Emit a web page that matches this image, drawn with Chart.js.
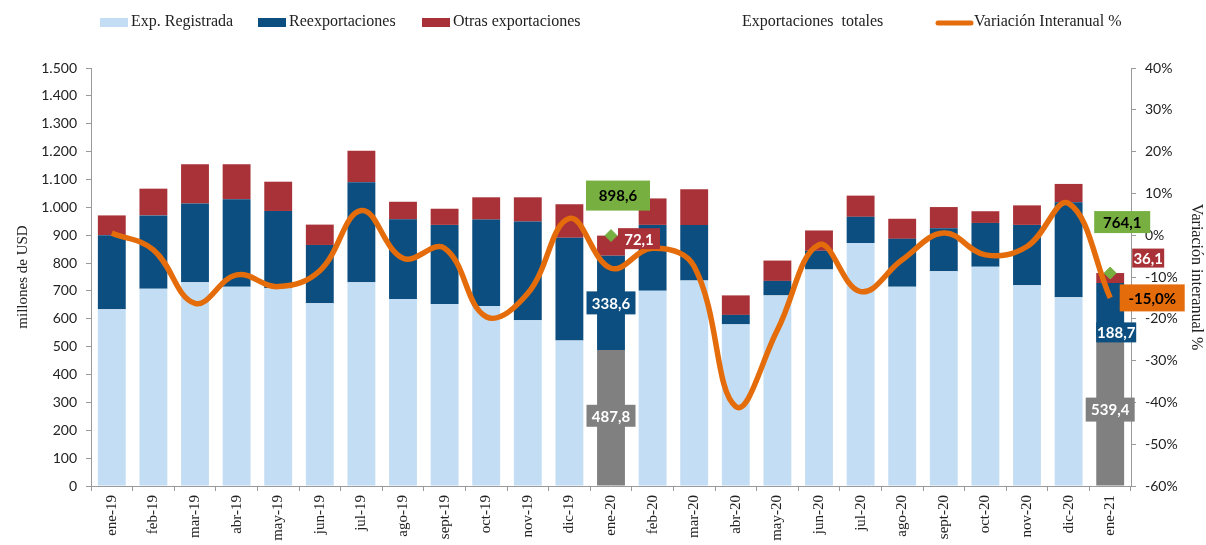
<!DOCTYPE html>
<html>
<head>
<meta charset="utf-8">
<script src="https://cdn.jsdelivr.net/npm/chart.js@4.4.0/dist/chart.umd.min.js"></script>
<style>
  html, body { margin: 0; padding: 0; background: #fff; }
  #wrap { width: 1206px; height: 545px; position: relative; }
</style>
</head>
<body>
<div id="wrap"><canvas id="grafico"></canvas></div>
<script>
// --- DATOS ---
const categorias = ['ene-19','feb-19','mar-19','abr-19','may-19','jun-19','jul-19','ago-19','sept-19','oct-19','nov-19','dic-19',
                    'ene-20','feb-20','mar-20','abr-20','may-20','jun-20','jul-20','ago-20','sept-20','oct-20','nov-20','dic-20','ene-21'];
const expRegistrada      = [634, 708, 731, 715, 710, 656, 731, 671, 653, 646, 595, 522, 487.8, 701, 737, 580, 684, 777, 872, 715, 771, 787, 720, 677, 539.4];
const reexportaciones    = [266, 263, 283, 314, 277, 209, 359, 286, 284, 310, 354, 369, 338.6, 236, 200, 34, 52, 67, 94, 172, 154, 157, 217, 341, 188.7];
const otrasExportaciones = [71, 96, 141, 126, 105, 73, 113, 63, 58, 80, 87, 120, 72.1, 95, 128, 70, 73, 73, 76, 72, 76, 42, 70, 66, 36.1];
const exportacionesTotales = [null, null, null, null, null, null, null, null, null, null, null, null, 898.6,
                              null, null, null, null, null, null, null, null, null, null, null, 764.1];
const variacionInteranual = [0.5, -3.5, -16.3, -9.5, -12.3, -8.5, 5.9, -5.5, -3.1, -19.5, -13.9, 4.0, -7.9,
                             -3.1, -7.5, -41.0, -22.7, -2.3, -13.5, -5.9, 0.5, -4.7, -2.7, 7.6, -15.0];
const mesesDestacados = [12, 24];

// --- COLORES ---
const CELESTE = '#C3DDF4';
const AZUL = '#0B4E7F';
const ROJO = '#A83238';
const GRIS = '#808080';
const NARANJA = '#E46C0A';
const VERDE = '#77B041';
const EJE = '#9a9a9a';

const SERIF = '"Liberation Serif", "DejaVu Serif", serif';
const SANS = 'Lato, "Open Sans", sans-serif';

const coloresRegistrada = categorias.map((c, i) => mesesDestacados.includes(i) ? GRIS : CELESTE);

// etiquetas de valores (ds: dataset, modo: 'seg' centro del tramo, 'pt' punto)
const etiquetas = [
  { ds: 0, i: 12, modo: 'seg', texto: '487,8', bg: GRIS,    fg: '#fff', dx: 0,  dy: -2,  w: 49, h: 22 },
  { ds: 1, i: 12, modo: 'seg', texto: '338,6', bg: AZUL,    fg: '#fff', dx: 0,  dy: 0,   w: 49, h: 23 },
  { ds: 2, i: 12, modo: 'seg', texto: '72,1',  bg: ROJO,    fg: '#fff', dx: 28, dy: -7,  w: 42, h: 21 },
  { ds: 3, i: 12, modo: 'pt',  texto: '898,6', bg: VERDE,   fg: '#000', dx: 7,  dy: -40, w: 64, h: 30 },
  { ds: 0, i: 24, modo: 'seg', texto: '539,4', bg: GRIS,    fg: '#fff', dx: 0,  dy: -1,  w: 49, h: 24 },
  { ds: 1, i: 24, modo: 'seg', texto: '188,7', bg: AZUL,    fg: '#fff', dx: 6,  dy: 23,  w: 40, h: 20 },
  { ds: 2, i: 24, modo: 'seg', texto: '36,1',  bg: ROJO,    fg: '#fff', dx: 38, dy: -20, w: 32, h: 19 },
  { ds: 3, i: 24, modo: 'pt',  texto: '764,1', bg: VERDE,   fg: '#000', dx: 12, dy: -51, w: 56, h: 22 },
  { ds: 4, i: 24, modo: 'pt',  texto: '-15,0%', bg: NARANJA, fg: '#000', dx: 42, dy: 0,  w: 65, h: 27 }
];

const leyenda = [
  { tipo: 'caja',  color: CELESTE, x: 100, texto: 'Exp. Registrada' },
  { tipo: 'caja',  color: AZUL,    x: 258, texto: 'Reexportaciones' },
  { tipo: 'caja',  color: ROJO,    x: 422, texto: 'Otras exportaciones' },
  { tipo: 'nada',  color: null,    x: 742, texto: 'Exportaciones  totales' },
  { tipo: 'linea', color: NARANJA, x: 935, texto: 'Variación Interanual %' }
];

// --- PLUGINS ---
const pluginEtiquetas = {
  id: 'etiquetas',
  afterDatasetsDraw(chart) {
    const ctx = chart.ctx;
    ctx.save();
    ctx.font = 'bold 15px ' + SANS;
    ctx.textAlign = 'center';
    ctx.textBaseline = 'middle';
    etiquetas.forEach(e => {
      const el = chart.getDatasetMeta(e.ds).data[e.i];
      if (!el) return;
      let cy = e.modo === 'seg' ? (el.y + el.base) / 2 : el.y;
      const cx = el.x + e.dx;
      cy += e.dy;
      ctx.fillStyle = e.bg;
      ctx.fillRect(cx - e.w / 2, cy - e.h / 2, e.w, e.h);
      ctx.fillStyle = e.fg;
      ctx.fillText(e.texto, cx, cy + 1);
    });
    ctx.restore();
  }
};

const pluginLeyenda = {
  id: 'leyendaFila',
  afterDraw(chart) {
    const ctx = chart.ctx;
    const y = 22;
    ctx.save();
    ctx.font = '16px ' + SERIF;
    ctx.textBaseline = 'middle';
    leyenda.forEach(it => {
      let tx = it.x;
      if (it.tipo === 'caja') {
        ctx.fillStyle = it.color;
        ctx.fillRect(it.x, y - 4, 28, 9);
        tx = it.x + 31;
      } else if (it.tipo === 'linea') {
        ctx.strokeStyle = it.color;
        ctx.lineWidth = 5;
        ctx.lineCap = 'round';
        ctx.beginPath();
        ctx.moveTo(it.x + 3, y + 1);
        ctx.lineTo(it.x + 36, y + 1);
        ctx.stroke();
        tx = it.x + 39;
      }
      ctx.fillStyle = '#222';
      ctx.fillText(it.texto, tx, y);
    });
    ctx.restore();
  }
};

// --- GRAFICO ---
function formatoMiles(v) {
  return v.toString().replace(/\B(?=(\d{3})+(?!\d))/g, '.');
}

const ctx = document.getElementById('grafico').getContext('2d');
new Chart(ctx, {
  data: {
    labels: categorias,
    datasets: [
      { type: 'bar', label: 'Exp. Registrada', data: expRegistrada, backgroundColor: coloresRegistrada, yAxisID: 'y', order: 3 },
      { type: 'bar', label: 'Reexportaciones', data: reexportaciones, backgroundColor: AZUL, yAxisID: 'y', order: 3 },
      { type: 'bar', label: 'Otras exportaciones', data: otrasExportaciones, backgroundColor: ROJO, yAxisID: 'y', order: 3 },
      { type: 'line', label: 'Exportaciones totales', data: exportacionesTotales, yAxisID: 'yTot', showLine: false,
        pointStyle: 'rectRot', pointRadius: 6, pointBackgroundColor: VERDE, pointBorderColor: VERDE, order: 0 },
      { type: 'line', label: 'Variación Interanual %', data: variacionInteranual, yAxisID: 'y1',
        borderColor: NARANJA, borderWidth: 5.5, tension: 0.4, pointRadius: 0, fill: false, order: 1 }
    ]
  },
  options: {
    responsive: true,
    maintainAspectRatio: false,
    animation: false,
    layout: { padding: { top: 68, left: 0, right: 0, bottom: 0 } },
    datasets: { bar: { categoryPercentage: 1.0, barPercentage: 0.67 } },
    plugins: {
      legend: { display: false },
      tooltip: { enabled: false }
    },
    scales: {
      x: {
        stacked: true,
        grid: { offset: true, drawOnChartArea: false, drawTicks: true, tickLength: 5, color: EJE },
        border: { display: true, color: EJE },
        ticks: { maxRotation: 90, minRotation: 90, padding: 4, color: '#222', font: { family: SERIF, size: 15 } },
        afterFit(s) { s.height = 59; }
      },
      y: {
        stacked: true,
        position: 'left',
        min: 0, max: 1500,
        grid: { drawOnChartArea: false, drawTicks: true, tickLength: 5, color: EJE },
        border: { display: true, color: EJE },
        ticks: { stepSize: 100, padding: 9, color: '#222', font: { family: SANS, size: 14 }, callback: v => formatoMiles(v) },
        title: { display: true, text: 'millones de USD', color: '#222', font: { family: SERIF, size: 15 }, padding: { top: 14, bottom: 0 } },
        afterFit(s) { s.width = 91; }
      },
      yTot: { display: false, min: 0, max: 1500 },
      y1: {
        position: 'right',
        min: -60, max: 40,
        grid: { drawOnChartArea: false, drawTicks: true, tickLength: 5, color: EJE },
        border: { display: true, color: EJE },
        ticks: { stepSize: 10, padding: 9, color: '#222', font: { family: SANS, size: 14 }, callback: v => v + '%' },
        title: { display: true, text: 'Variación interanual %', color: '#222', font: { family: SERIF, size: 16 }, padding: { top: 0, bottom: 5 } },
        afterFit(s) { s.width = 75; }
      }
    }
  },
  plugins: [pluginEtiquetas, pluginLeyenda]
});
</script>
</body>
</html>
